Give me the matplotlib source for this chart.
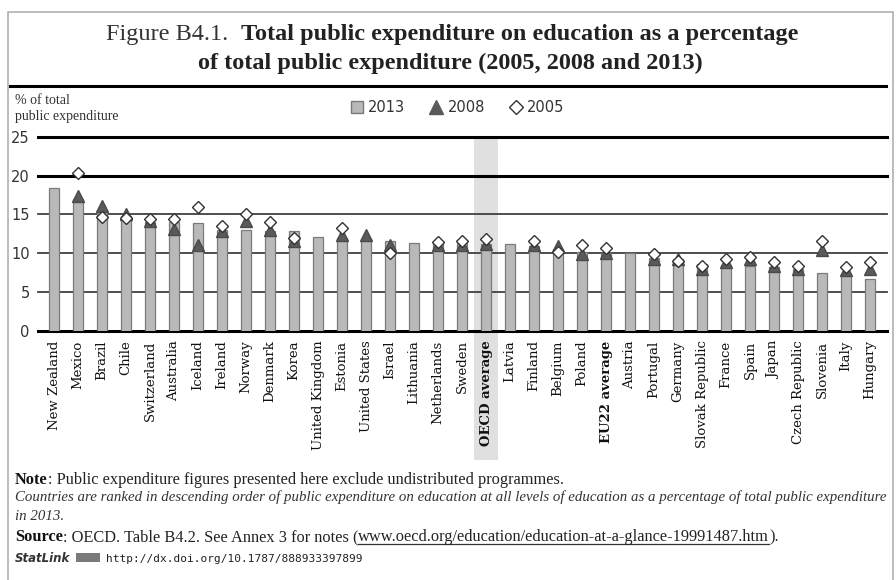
import numpy as np
import matplotlib
matplotlib.use("Agg")
import matplotlib.pyplot as plt
from matplotlib.lines import Line2D
from matplotlib.patches import Rectangle

nan = np.nan
countries = ["New Zealand", "Mexico", "Brazil", "Chile", "Switzerland", "Australia",
             "Iceland", "Ireland", "Norway", "Denmark", "Korea", "United Kingdom",
             "Estonia", "United States", "Israel", "Lithuania", "Netherlands", "Sweden",
             "OECD average", "Latvia", "Finland", "Belgium", "Poland", "EU22 average",
             "Austria", "Portugal", "Germany", "Slovak Republic", "France", "Spain",
             "Japan", "Czech Republic", "Slovenia", "Italy", "Hungary"]
v2013 = [18.4, 17.0, 15.6, 14.8, 14.0, 13.95, 13.9, 13.0, 12.95, 12.9, 12.8, 12.1,
         11.9, 11.8, 11.5, 11.3, 11.3, 11.25, 11.2, 11.2, 10.9, 10.5, 10.1, 10.0,
         10.0, 9.4, 9.2, 8.6, 8.5, 8.3, 8.2, 8.0, 7.5, 7.3, 6.7]
v2008 = [nan, 17.4, 16.1, 15.0, 14.1, 13.1, 11.0, 12.8, 14.2, 13.0, 11.6, nan,
         12.3, 12.3, 11.0, nan, 11.0, 11.1, 11.2, nan, 11.0, 10.9, 9.9, 10.0,
         nan, 9.2, 9.3, 8.0, 8.8, 9.3, 8.3, 8.0, 10.4, 7.8, 8.0]
v2005 = [nan, 20.3, 14.7, 14.5, 14.4, 14.4, 15.9, 13.5, 15.0, 14.0, 12.0, nan,
         13.2, nan, 10.0, nan, 11.4, 11.5, 11.8, nan, 11.6, 10.1, 11.1, 10.6,
         nan, 9.9, 9.0, 8.4, 9.2, 9.5, 8.8, 8.3, 11.5, 8.2, 8.9]
yticks = [0, 5, 10, 15, 20, 25]
highlight = "OECD average"
bold_labels = ["OECD average", "EU22 average"]

W, H = 896, 580
fig = plt.figure(figsize=(W / 100, H / 100), dpi=100)
fig.patch.set_facecolor("white")

def fx(px):
    return px / W

def fy(py):
    return 1 - py / H

# outer frame
fig.add_artist(Rectangle((fx(8), fy(582)), fx(885), (582 - 12) / H, transform=fig.transFigure,
                         fill=False, edgecolor="#b0b0b0", lw=1.2))
# rule under title
fig.add_artist(Line2D([fx(10), fx(886)], [fy(86), fy(86)], transform=fig.transFigure,
                      color="black", lw=2.2))

ax_left, ax_right = 38, 887
ax = fig.add_axes([fx(ax_left), fy(330.7), fx(ax_right - ax_left), (330.7 - 136.7) / H])
n = len(countries)
x = np.arange(n)
pxu = 24.0
ax.set_xlim(-0.5 - (54 - 12 - ax_left) / pxu, -0.5 + (ax_right - 42) / pxu)
ax.set_ylim(0, 25)
for s in ax.spines.values():
    s.set_visible(False)

# highlight band
hi = countries.index(highlight)
band_bottom = (330.7 - 460) / (330.7 - 136.7)
ax.add_patch(Rectangle((hi - 0.5, band_bottom), 1.0, 1 - band_bottom,
                       transform=ax.get_xaxis_transform(), facecolor="#e0e0e0",
                       edgecolor="none", clip_on=False, zorder=0))

for t in yticks:
    if t in (0, 20, 25):
        ax.axhline(t, color="black", lw=2.2, zorder=1, clip_on=False)
    else:
        ax.axhline(t, color="#404040", lw=1.3, zorder=1, clip_on=False)

ax.bar(x, v2013, width=0.44, color="#b9b9b9", edgecolor="#7a7a7a", lw=0.9, zorder=2)
ax.plot(x, v2008, linestyle="none", marker="^", markersize=8.5, color="#5a5a5a",
        markeredgecolor="#4a4a4a", zorder=3)
ax.plot(x, v2005, linestyle="none", marker="D", markersize=6.5, markerfacecolor="white",
        markeredgecolor="#333333", markeredgewidth=1.0, zorder=4)

ax.set_yticks(yticks)
ax.set_yticklabels([str(t) for t in yticks], fontsize=10.5, color="#333333",
                   family="DejaVu Sans")
ax.tick_params(axis="y", length=0, pad=6)
ax.set_xticks(x)
ax.set_xticklabels(countries, rotation=90, fontsize=9.5, family="DejaVu Serif",
                   color="#111111")
ax.tick_params(axis="x", length=0, pad=7)
for lbl in ax.get_xticklabels():
    if lbl.get_text() in bold_labels:
        lbl.set_fontweight("bold")

# y-axis title
fig.text(fx(15), fy(104), "% of total", fontsize=10, family="Liberation Serif",
         color="#333333", va="baseline")
fig.text(fx(15), fy(120), "public expenditure", fontsize=10, family="Liberation Serif",
         color="#333333", va="baseline")

# legend
handles = [
    Line2D([], [], linestyle="none", marker="s", markersize=9, markerfacecolor="#b9b9b9",
           markeredgecolor="#7a7a7a"),
    Line2D([], [], linestyle="none", marker="^", markersize=10, color="#5a5a5a"),
    Line2D([], [], linestyle="none", marker="D", markersize=7, markerfacecolor="white",
           markeredgecolor="#333333"),
]
leg = fig.legend(handles, ["2013", "2008", "2005"], loc="center", ncol=3,
                 bbox_to_anchor=(fx(457), fy(108)), frameon=False, fontsize=10.5,
                 handlelength=1.0, handletextpad=0.3, columnspacing=1.6)
for t in leg.get_texts():
    t.set_color("#333333")

renderer = fig.canvas.get_renderer()

def seg_text(x0, y0, parts, center=False):
    objs = []
    xpos = x0
    for s, props in parts:
        t = fig.text(fx(xpos), fy(y0), s, va="baseline", ha="left", **props)
        w = t.get_window_extent(renderer).width
        objs.append((t, xpos, w))
        xpos += w
    if center:
        total = xpos - x0
        shift = total / 2
        for t, xp, w in objs:
            t.set_x(fx(xp - shift))
        objs = [(t, xp - shift, w) for t, xp, w in objs]
    return objs

title_reg = dict(family="Liberation Serif", fontsize=17.5, color="#333333")
title_bold = dict(family="Liberation Serif", fontsize=17.5, color="#222222", fontweight="bold")
seg_text(452, 40, [("Figure B4.1.  ", title_reg),
                   ("Total public expenditure on education as a percentage", title_bold)],
         center=True)
seg_text(450, 69, [("of total public expenditure (2005, 2008 and 2013)", title_bold)],
         center=True)

fn = dict(family="Liberation Serif", fontsize=11.8, color="#222222")
fb = dict(family="Liberation Serif", fontsize=11.8, color="#111111", fontweight="bold")
fi = dict(family="Liberation Serif", fontsize=10.7, color="#333333", style="italic")
seg_text(15, 484, [("Note", fb), (": Public expenditure figures presented here exclude "
                                  "undistributed programmes.", fn)])
seg_text(15, 501, [("Countries are ranked in descending order of public expenditure on "
                    "education at all levels of education as a percentage of total public "
                    "expenditure", fi)])
seg_text(15, 520, [("in 2013.", fi)])
objs = seg_text(15, 541, [("Source", fb), (": OECD. Table B4.2. See Annex 3 for notes (", fn),
                          ("www.oecd.org/education/education-at-a-glance-19991487.htm", fn),
                          (").", fn)])
t, xp, w = objs[2]
fig.add_artist(Line2D([fx(xp), fx(xp + w)], [fy(544), fy(544)], transform=fig.transFigure,
                      color="#333333", lw=0.9))
objs = seg_text(15, 562, [("StatLink", dict(family="DejaVu Sans", fontsize=8.5,
                                             fontweight="bold", style="italic",
                                             color="#333333"))])
t, xp, w = objs[0]
fig.add_artist(Rectangle((fx(xp + w + 6), fy(562)), fx(24), 9 / H, transform=fig.transFigure,
                         facecolor="#7a7a7a", edgecolor="none"))
fig.text(fx(xp + w + 36), fy(562), "http://dx.doi.org/10.1787/888933397899",
         family="DejaVu Sans Mono", fontsize=8, color="#222222", va="baseline")

fig.savefig("out.png", dpi=100, facecolor="white")
